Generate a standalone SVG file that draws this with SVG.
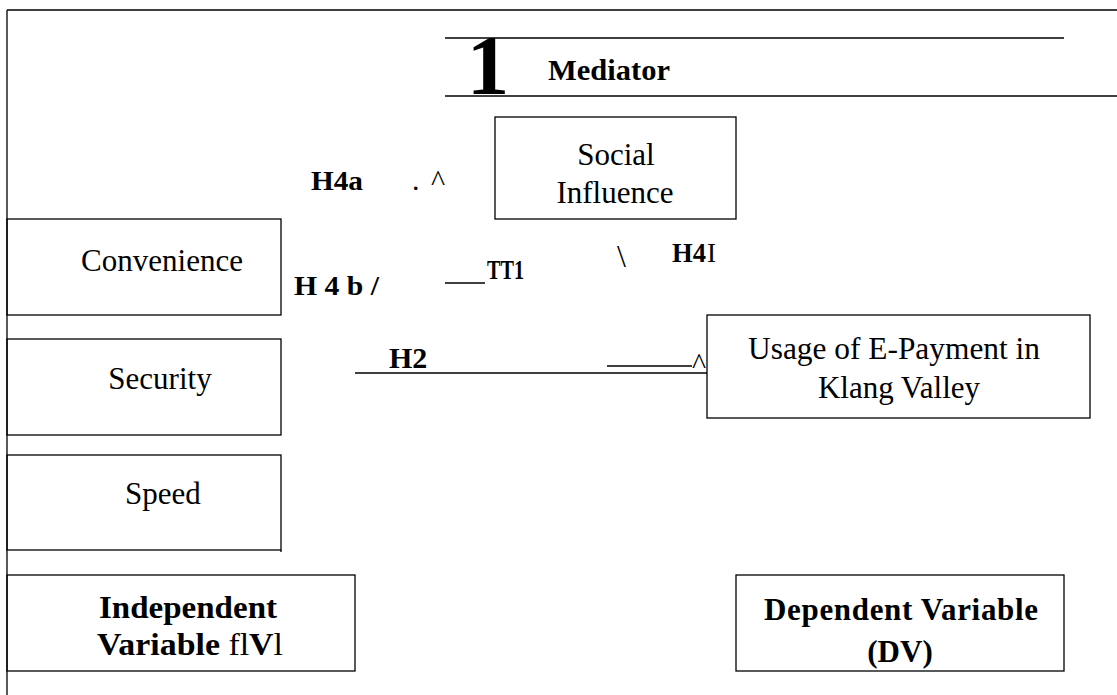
<svg xmlns="http://www.w3.org/2000/svg" width="1117" height="695" viewBox="0 0 1117 695">
<style>
.box{fill:none;stroke:#000;stroke-width:1.3}
.ln{stroke:#000;stroke-width:1.3;fill:none}
.t{font-family:"Liberation Serif","Times New Roman",serif;fill:#000}
.r{font-size:31px}
.b{font-weight:bold}
.c{text-anchor:middle}
</style>
<rect width="1117" height="695" fill="#fff"/>
<g id="frame">
<line class="ln" x1="7" y1="10" x2="1117" y2="10"/>
<line class="ln" x1="7" y1="10" x2="7" y2="695"/>
</g>
<g id="mediator-header">
<line class="ln" x1="445" y1="38" x2="1064" y2="38"/>
<line class="ln" x1="445" y1="96" x2="1117" y2="96"/>
<text class="t b c" x="488" y="94" style="font-size:85px">1</text>
<text class="t b" x="548" y="80" style="font-size:29px" textLength="122" lengthAdjust="spacingAndGlyphs">Mediator</text>
</g>
<g id="social-influence">
<rect class="box" x="495" y="117" width="241" height="102"/>
<text class="t r c" x="616" y="165">Social</text>
<text class="t r c" x="615" y="203">Influence</text>
</g>
<g id="convenience">
<rect class="box" x="7" y="219" width="274" height="96"/>
<text class="t r c" x="162" y="271">Convenience</text>
</g>
<g id="security">
<rect class="box" x="7" y="339" width="274" height="96"/>
<text class="t r c" x="160" y="389">Security</text>
</g>
<g id="speed">
<rect class="box" x="7" y="455" width="274" height="95"/>
<line class="ln" x1="281" y1="550" x2="281" y2="552"/>
<text class="t r c" x="163" y="504">Speed</text>
</g>
<g id="usage">
<rect class="box" x="707" y="315" width="383" height="103"/>
<text class="t r" x="748" y="359" textLength="292" lengthAdjust="spacingAndGlyphs">Usage of E-Payment in</text>
<text class="t r c" x="899" y="398">Klang Valley</text>
</g>
<g id="independent-variable">
<rect class="box" x="7" y="575" width="348" height="96"/>
<text class="t r b" x="99" y="618" textLength="178" lengthAdjust="spacingAndGlyphs">Independent</text>
<text class="t r" x="97" y="655" textLength="186" lengthAdjust="spacingAndGlyphs"><tspan font-weight="bold">Variable</tspan>  fl<tspan font-weight="bold">V</tspan>l</text>
</g>
<g id="dependent-variable">
<rect class="box" x="736" y="575" width="328" height="96"/>
<text class="t r b" x="764" y="620" textLength="274" lengthAdjust="spacing">Dependent Variable</text>
<text class="t r b c" x="900" y="662">(DV)</text>
</g>
<g id="connectors">
<line class="ln" x1="355" y1="373" x2="707" y2="373"/>
<line class="ln" x1="607" y1="366" x2="692" y2="366"/>
<line class="ln" x1="445" y1="283" x2="485" y2="283"/>
<text class="t" x="692" y="374" style="font-size:30px">^</text>
<text class="t" x="412" y="190" style="font-size:30px">.</text>
<text class="t" x="431" y="191" style="font-size:30px">^</text>
<text class="t" x="617" y="267" style="font-size:32px">\</text>
</g>
<g id="labels">
<text class="t b" x="311" y="190" style="font-size:28px" textLength="52" lengthAdjust="spacingAndGlyphs">H4a</text>
<text class="t b" x="294" y="295" style="font-size:28px" textLength="85" lengthAdjust="spacingAndGlyphs">H 4 b /</text>
<text class="t b" x="487" y="279" style="font-size:27px" textLength="37" lengthAdjust="spacingAndGlyphs">TT1</text>
<text class="t b" x="672" y="262" style="font-size:27px" textLength="34" lengthAdjust="spacingAndGlyphs">H4</text>
<text class="t" x="707" y="262" style="font-size:27px">I</text>
<text class="t b" x="389" y="368" style="font-size:30px">H2</text>
</g>
</svg>
